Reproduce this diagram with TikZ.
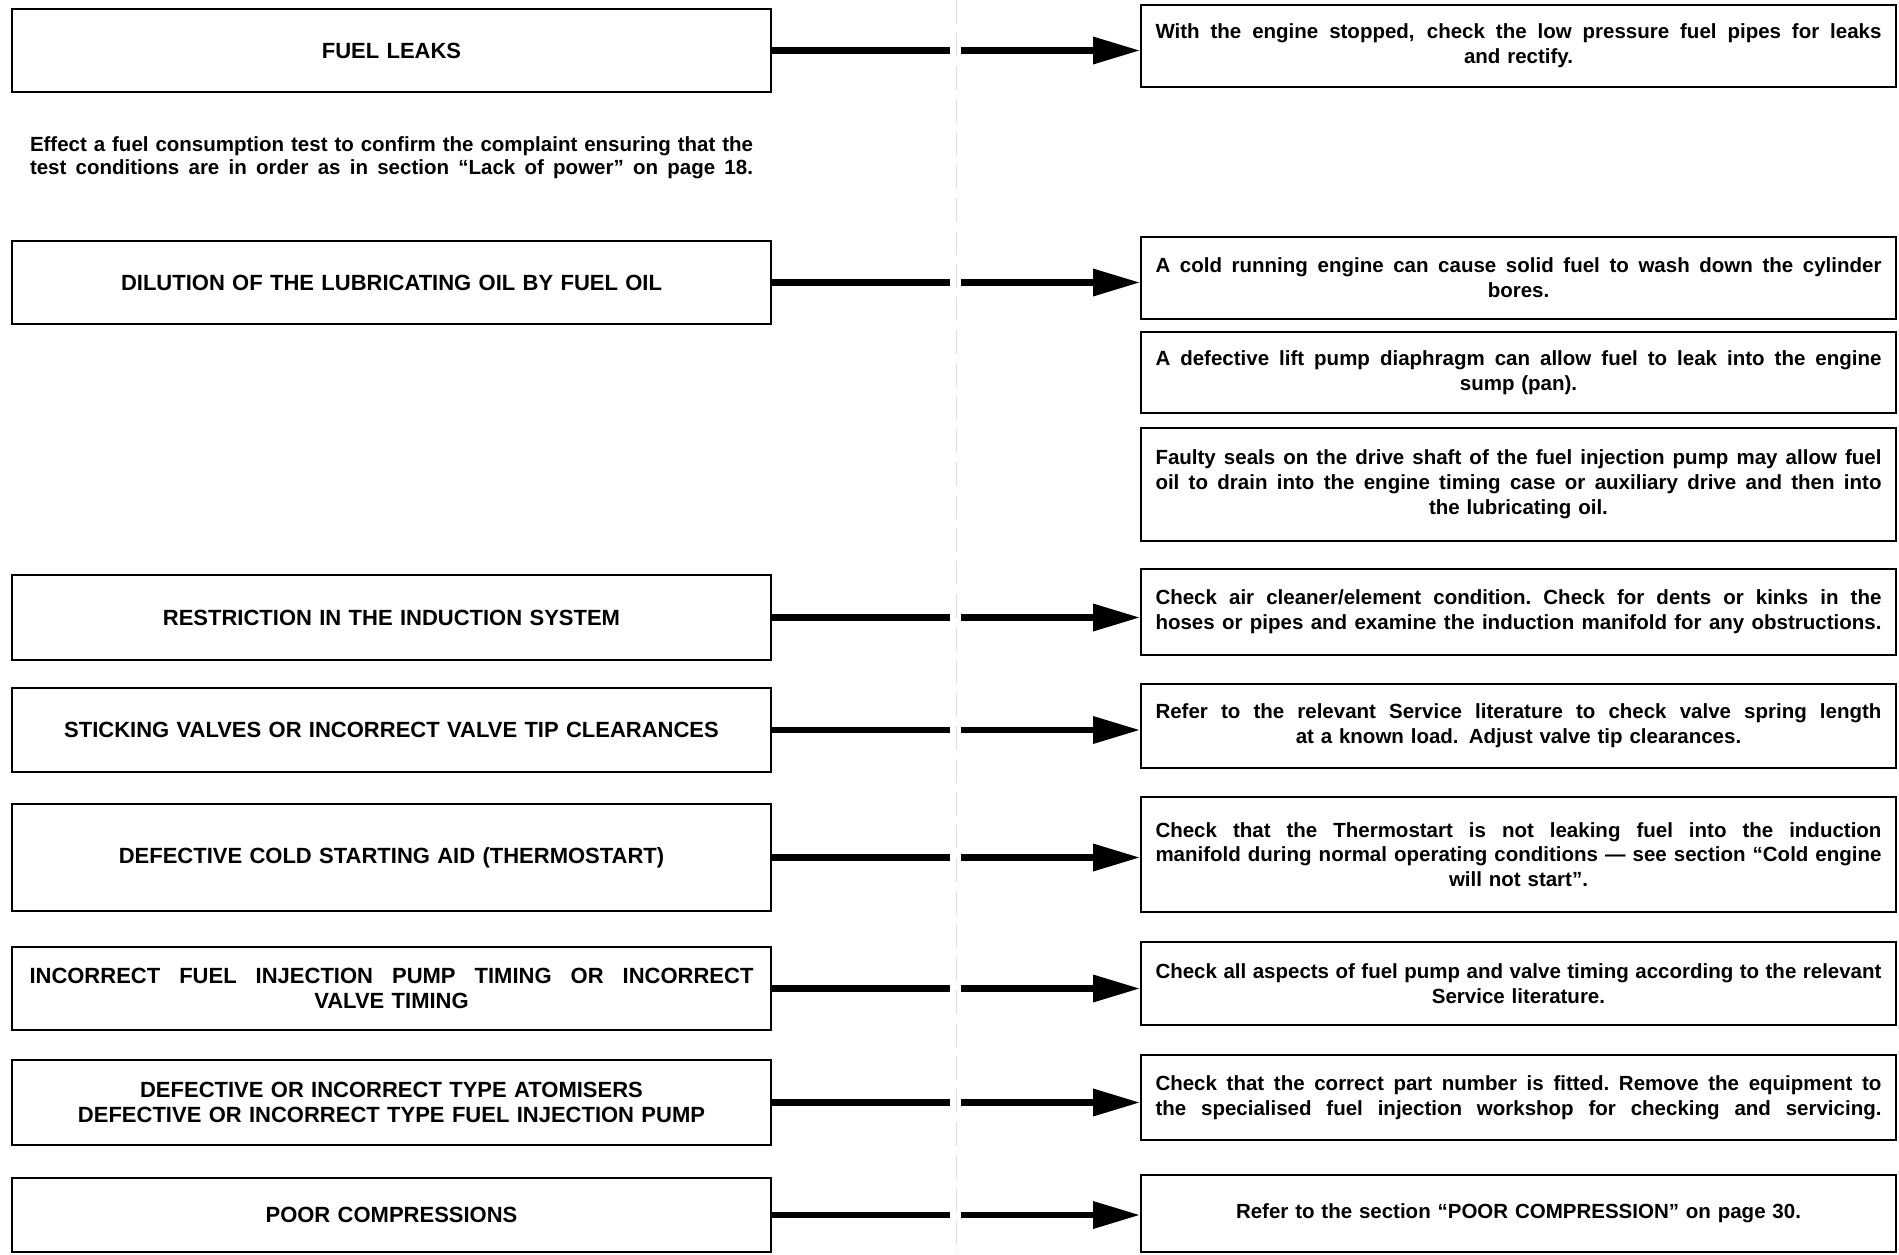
\documentclass[tikz,border=0pt]{standalone}
\usepackage{fontspec}
\setmainfont{Liberation Sans}
\usetikzlibrary{arrows.meta}

\tikzstyle{cause} = [draw, line width=1.8pt, minimum width=759pt, text width=724pt, inner sep=0pt, align=center, font=\fontsize{22}{25.5}\selectfont\bfseries]
\tikzstyle{remedy} = [draw, line width=1.8pt, minimum width=755pt, text width=726pt, inner sep=0pt, align=center, font=\fontsize{20.5}{24.8}\selectfont\bfseries]
\tikzstyle{note} = [text width=723pt, inner sep=0pt, align=left, font=\fontsize{20.5}{23}\selectfont\bfseries]
\tikzstyle{bar} = [line width=6.5pt]
\tikzstyle{pointer} = [line width=6.5pt, -{Triangle[length=47pt,width=26pt]}]
\tikzstyle{gutter} = [gray!25, line width=0.5pt, dash pattern=on 24pt off 9pt]

\newcommand{\spread}[1]{\leavevmode\hbox to \hsize{\spaceskip=0.278em plus 2em minus 0.06em\xspaceskip=\spaceskip #1}}

\begin{document}
\begin{tikzpicture}[x=1pt, y=-1pt]
\useasboundingbox (0,0) rectangle (1899,1255);

\coordinate (guttop) at (956,0);
\coordinate (gutbot) at (956,1255);
\coordinate (gapl) at (950,0);
\coordinate (gapr) at (961,0);
\draw[gutter] (guttop) -- (gutbot);

\node[cause, minimum height=83pt] (fuelleaks) at (391.5,50.5) {FUEL LEAKS};
\node[note] (consumption) at (391.5,158) {\spread{Effect a fuel consumption test to confirm the complaint ensuring that the}\\
    \spread{test conditions are in order as in section “Lack of power” on page 18.}};
\node[cause, minimum height=83pt] (dilution) at (391.5,282.5) {DILUTION OF THE LUBRICATING OIL BY FUEL OIL};
\node[cause, minimum height=85pt] (induction) at (391.5,617.5) {RESTRICTION IN THE INDUCTION SYSTEM};
\node[cause, minimum height=84pt] (valves) at (391.5,730) {STICKING VALVES OR INCORRECT VALVE TIP CLEARANCES};
\node[cause, minimum height=107pt] (thermostart) at (391.5,857.5) {DEFECTIVE COLD STARTING AID (THERMOSTART)};
\node[cause, minimum height=83pt] (timing) at (391.5,988.5) {\spread{INCORRECT FUEL INJECTION PUMP TIMING OR INCORRECT}\\
    VALVE TIMING};
\node[cause, minimum height=85pt] (atomisers) at (391.5,1102.5) {DEFECTIVE OR INCORRECT TYPE ATOMISERS\\
    DEFECTIVE OR INCORRECT TYPE FUEL INJECTION PUMP};
\node[cause, minimum height=74pt] (compression) at (391.5,1215) {POOR COMPRESSIONS};

\node[remedy, minimum height=82pt] (pipes) at (1518.5,46) {\spread{With the engine stopped, check the low pressure fuel pipes for leaks}\\
    and rectify.};
\node[remedy, minimum height=82pt] (coldrun) at (1518.5,278) {\spread{A cold running engine can cause solid fuel to wash down the cylinder}\\
    bores.};
\node[remedy, minimum height=81pt] (liftpump) at (1518.5,372.5) {\spread{A defective lift pump diaphragm can allow fuel to leak into the engine}\\
    sump (pan).};
\node[remedy, minimum height=113pt] (seals) at (1518.5,484.5) {\spread{Faulty seals on the drive shaft of the fuel injection pump may allow fuel}\\
    \spread{oil to drain into the engine timing case or auxiliary drive and then into}\\
    the lubricating oil.};
\node[remedy, minimum height=86pt] (aircleaner) at (1518.5,612) {\spread{Check air cleaner/element condition. Check for dents or kinks in the}\\
    \spread{hoses or pipes and examine the induction manifold for any obstructions.}};
\node[remedy, minimum height=84pt] (springs) at (1518.5,726) {\spread{Refer to the relevant Service literature to check valve spring length}\\
    at a known load. Adjust valve tip clearances.};
\node[remedy, minimum height=115pt] (leaking) at (1518.5,854.5) {\spread{Check that the Thermostart is not leaking fuel into the induction}\\
    \spread{manifold during normal operating conditions — see section “Cold engine}\\
    will not start”.};
\node[remedy, minimum height=83pt] (aspects) at (1518.5,983.5) {\spread{Check all aspects of fuel pump and valve timing according to the relevant}\\
    Service literature.};
\node[remedy, minimum height=85pt] (partnumber) at (1518.5,1097.5) {\spread{Check that the correct part number is fitted. Remove the equipment to}\\
    \spread{the specialised fuel injection workshop for checking and servicing.}};
\node[remedy, minimum height=77pt] (poorcomp) at (1518.5,1213.5) {Refer to the section “POOR COMPRESSION” on page 30.};

\draw[bar] (fuelleaks.east) -- (fuelleaks.east -| gapl);
\draw[pointer] (fuelleaks.east -| gapr) -- (fuelleaks.east -| pipes.west);
\draw[bar] (dilution.east) -- (dilution.east -| gapl);
\draw[pointer] (dilution.east -| gapr) -- (dilution.east -| coldrun.west);
\draw[bar] (induction.east) -- (induction.east -| gapl);
\draw[pointer] (induction.east -| gapr) -- (induction.east -| aircleaner.west);
\draw[bar] (valves.east) -- (valves.east -| gapl);
\draw[pointer] (valves.east -| gapr) -- (valves.east -| springs.west);
\draw[bar] (thermostart.east) -- (thermostart.east -| gapl);
\draw[pointer] (thermostart.east -| gapr) -- (thermostart.east -| leaking.west);
\draw[bar] (timing.east) -- (timing.east -| gapl);
\draw[pointer] (timing.east -| gapr) -- (timing.east -| aspects.west);
\draw[bar] (atomisers.east) -- (atomisers.east -| gapl);
\draw[pointer] (atomisers.east -| gapr) -- (atomisers.east -| partnumber.west);
\draw[bar] (compression.east) -- (compression.east -| gapl);
\draw[pointer] (compression.east -| gapr) -- (compression.east -| poorcomp.west);
\end{tikzpicture}
\end{document}
